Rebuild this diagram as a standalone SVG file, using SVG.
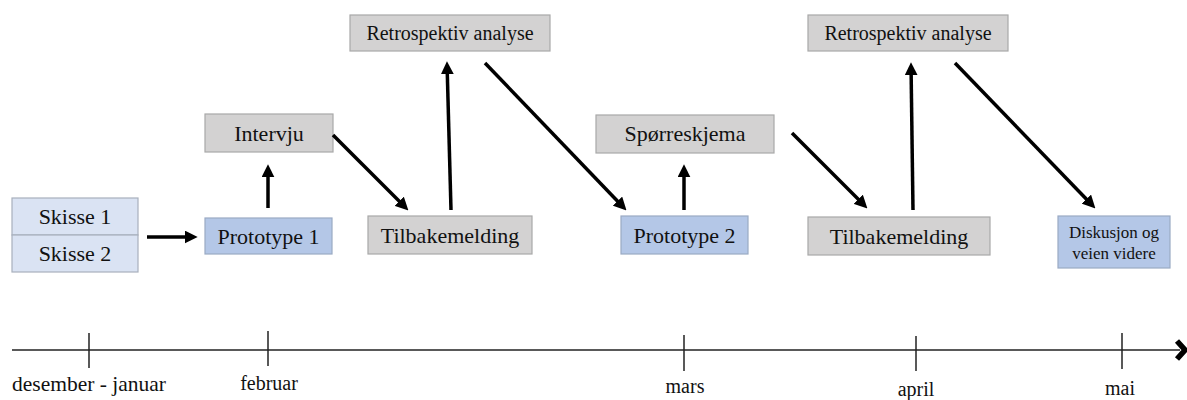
<svg xmlns="http://www.w3.org/2000/svg" width="1187" height="400" viewBox="0 0 1187 400">
<style>
.g{fill:#d3d2d2;stroke:#a8a8a8;stroke-width:1.2}
.b{fill:#b4c7e7;stroke:#9aaac4;stroke-width:1.2}
.lb{fill:#dae3f3;stroke:#a8b0bd;stroke-width:1.2}
text{font-family:"Liberation Serif","Times New Roman",serif;fill:#111;text-anchor:middle}
.t22{font-size:22px}
.t20{font-size:20px}
.t17{font-size:17px}
.a{stroke:#000;stroke-width:3.5;fill:none;marker-end:url(#ah)}
.ax{stroke:#222;stroke-width:1.5;fill:none}
</style>
<defs>
<marker id="ah" markerUnits="userSpaceOnUse" markerWidth="13" markerHeight="13" refX="4" refY="6" orient="auto" viewBox="0 0 12 12">
<path d="M0,0 L12,6 L0,12 z" fill="#000"/>
</marker>
</defs>
<rect width="1187" height="400" fill="#fff"/>
<g id="skisse">
<rect class="lb" x="12" y="198" width="126" height="37"/>
<rect class="lb" x="12" y="235" width="126" height="37"/>
<text class="t22" x="75" y="224">Skisse 1</text>
<text class="t22" x="75" y="261">Skisse 2</text>
</g>
<g id="prototype1">
<rect class="b" x="205" y="218" width="127" height="36"/>
<text class="t22" x="268.5" y="244">Prototype 1</text>
</g>
<g id="intervju">
<rect class="g" x="205" y="114" width="128" height="38"/>
<text class="t22" x="269" y="141">Intervju</text>
</g>
<g id="retro1">
<rect class="g" x="350" y="15" width="200" height="36"/>
<text class="t20" x="450" y="40">Retrospektiv analyse</text>
</g>
<g id="tilbakemelding1">
<rect class="g" x="368" y="216" width="164" height="38"/>
<text class="t22" x="450" y="243">Tilbakemelding</text>
</g>
<g id="prototype2">
<rect class="b" x="621" y="216" width="127" height="38"/>
<text class="t22" x="684.5" y="243">Prototype 2</text>
</g>
<g id="sporreskjema">
<rect class="g" x="596" y="115" width="178" height="38"/>
<text class="t22" x="685" y="141">Spørreskjema</text>
</g>
<g id="tilbakemelding2">
<rect class="g" x="808" y="217" width="182" height="38"/>
<text class="t22" x="899" y="244">Tilbakemelding</text>
</g>
<g id="retro2">
<rect class="g" x="808" y="15" width="200" height="36"/>
<text class="t20" x="908" y="40">Retrospektiv analyse</text>
</g>
<g id="diskusjon">
<rect class="b" x="1058" y="216" width="112" height="52"/>
<text class="t17" x="1114" y="238">Diskusjon og</text>
<text class="t17" x="1114" y="259">veien videre</text>
</g>
<g id="connectors">
<line class="a" x1="147" y1="237" x2="189" y2="237"/>
<line class="a" x1="268" y1="208" x2="268" y2="173"/>
<line class="a" x1="333" y1="135" x2="402.3" y2="204.3"/>
<line class="a" x1="451" y1="210" x2="447.2" y2="70"/>
<line class="a" x1="485" y1="63" x2="620.5" y2="204.2"/>
<line class="a" x1="684" y1="210" x2="684" y2="173"/>
<line class="a" x1="792" y1="133" x2="861.3" y2="202.3"/>
<line class="a" x1="913" y1="210" x2="911.1" y2="71"/>
<line class="a" x1="955" y1="63" x2="1089.4" y2="202.2"/>
</g>
<g id="timeline">
<line class="ax" x1="12" y1="350" x2="1180" y2="350"/>
<polyline points="1177,341 1185,350 1177,359" fill="none" stroke="#000" stroke-width="5.5"/>
<line class="ax" x1="89" y1="333" x2="89" y2="368"/>
<line class="ax" x1="268" y1="331" x2="268" y2="366"/>
<line class="ax" x1="684" y1="335" x2="684" y2="371"/>
<line class="ax" x1="916" y1="336" x2="916" y2="371"/>
<line class="ax" x1="1122" y1="333" x2="1122" y2="369"/>
<text class="t20" x="89" y="391" style="font-size:21.5px">desember - januar</text>
<text class="t20" x="269" y="390">februar</text>
<text class="t20" x="685" y="393">mars</text>
<text class="t20" x="916" y="396">april</text>
<text class="t20" x="1120" y="395">mai</text>
</g>
</svg>
